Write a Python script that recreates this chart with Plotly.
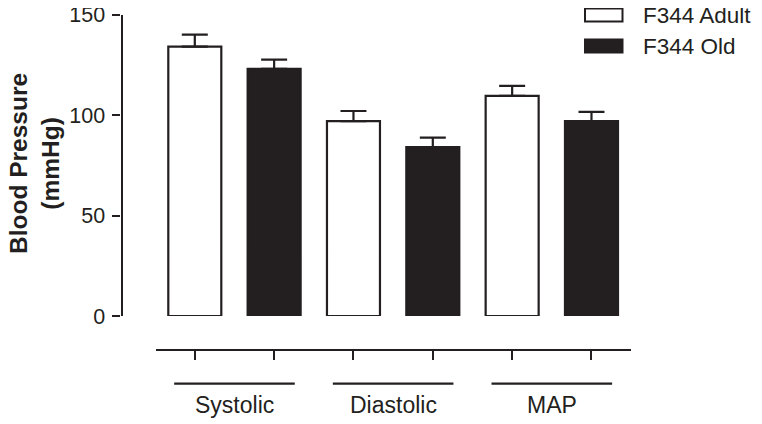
import plotly.graph_objects as go

# ---- data ----
groups = ["Systolic", "Diastolic", "MAP"]
series = ["F344 Adult", "F344 Old"]
adult_mean = [134, 97, 109.5]
adult_sem = [6, 5, 5]
old_mean = [123, 84, 97]
old_sem = [4.5, 4.7, 4.6]
y_ticks = [0, 50, 100, 150]

# page body has an 8px default margin; the figure is sized to fill the rest
OFF = 8
W, H = 762 - OFF, 424 - OFF
DARK = "#231f20"
FONT = "Liberation Sans, Arial, sans-serif"

def px(x):
    return (x - OFF) / W

def py(y):
    return (H - (y - OFF)) / H

# bar positions: each group gets two slots (adult, old)
pos_adult = [2 * i for i in range(len(groups))]
pos_old = [2 * i + 1 for i in range(len(groups))]

fig = go.Figure()
fig.add_trace(go.Bar(
    x=pos_adult, y=adult_mean, name=series[0], width=0.668,
    marker=dict(color="white", line=dict(color=DARK, width=2.2)),
    error_y=dict(type="data", array=adult_sem, arrayminus=[0] * 3, symmetric=False,
                 color=DARK, thickness=2.2, width=13),
    showlegend=False,
))
fig.add_trace(go.Bar(
    x=pos_old, y=old_mean, name=series[1], width=0.668,
    marker=dict(color=DARK, line=dict(color=DARK, width=2.2)),
    error_y=dict(type="data", array=old_sem, arrayminus=[0] * 3, symmetric=False,
                 color=DARK, thickness=2.2, width=13),
    showlegend=False,
))

shapes = []
annotations = []

# group underline + labels
for i, g in enumerate(groups):
    shapes.append(dict(type="line", xref="x", yref="paper",
                       x0=2 * i - 0.26, x1=2 * i + 1 + 0.26,
                       y0=py(383.7), y1=py(383.7),
                       line=dict(color=DARK, width=2.2)))
    annotations.append(dict(xref="x", yref="paper", x=2 * i + 0.5, y=py(405),
                            text=g, showarrow=False, xanchor="center", yanchor="middle",
                            font=dict(family=FONT, size=23, color=DARK)))

# legend (manual)
legend_fill = ["white", DARK]
legend_rows = [15, 46]
for name, fill, yc in zip(series, legend_fill, legend_rows):
    shapes.append(dict(type="rect", xref="paper", yref="paper",
                       x0=px(585), x1=px(622.5), y0=py(yc - 6.5), y1=py(yc + 6.5),
                       fillcolor=fill, line=dict(color=DARK, width=2)))
    annotations.append(dict(xref="paper", yref="paper", x=px(642), y=py(yc),
                            text=name, showarrow=False, xanchor="left", yanchor="middle",
                            borderpad=0,
                            font=dict(family=FONT, size=22.5, color=DARK)))

# y-axis title
annotations.append(dict(xref="paper", yref="paper", x=px(34), y=py(164),
                        text="<b>Blood Pressure</b><br><b>(mmHg)</b>",
                        showarrow=False, borderpad=0,
                        textangle=-90, xanchor="center", yanchor="middle",
                        font=dict(family=FONT, size=24.5, color=DARK)))

fig.update_layout(
    width=W, height=H,
    margin=dict(l=0, r=0, t=0, b=0),
    paper_bgcolor="white", plot_bgcolor="white",
    barmode="overlay",
    shapes=shapes, annotations=annotations,
    xaxis=dict(domain=[px(156), px(631)], range=[-0.489, 5.498],
               anchor="free", position=py(350),
               showline=True, linecolor=DARK, linewidth=2.2,
               ticks="outside", ticklen=9, tickwidth=2.2, tickcolor=DARK,
               tickvals=pos_adult + pos_old, showticklabels=False,
               showgrid=False, zeroline=False, automargin=False),
    yaxis=dict(domain=[py(316), py(14.5)], range=[0, 150],
               anchor="free", position=px(121.5),
               showline=True, linecolor=DARK, linewidth=2.2,
               ticks="outside", ticklen=8, tickwidth=2.2, tickcolor=DARK,
               tickvals=y_ticks, ticklabelstandoff=3, ticklabeloverflow="allow",
               tickfont=dict(family=FONT, size=21.5, color=DARK),
               showgrid=False, zeroline=False, automargin=False),
)

fig.write_html("out.html")
